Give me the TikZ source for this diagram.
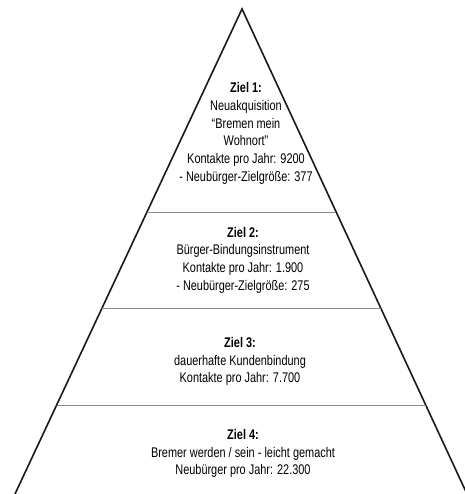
\documentclass[tikz,border=0pt]{standalone}
\usepackage{fontspec}
\setmainfont[FakeStretch=0.78]{Liberation Sans}
\usepackage{tikz}
\usetikzlibrary{calc}

\begin{document}
\begin{tikzpicture}[
      x=1pt, y=-1pt,
      kante/.style={draw=black!90, line width=1.6pt, line join=miter},
      trenner/.style={draw=black!45, line width=0.8pt},
      zielbox/.style={align=center, inner sep=0pt, font=\fontsize{14}{17.7}\selectfont}
    ]
      \useasboundingbox (0,0) rectangle (464,494);
      \coordinate (spitze) at (242,9);
      \coordinate (links) at (15,494);
      \coordinate (rechts) at (467,494);
      \draw[kante] (links) -- (spitze) -- (rechts);
      \foreach \t in {0.419, 0.6165, 0.8165}
        \draw[trenner] ($(spitze)!\t!(links)$) -- ($(spitze)!\t!(rechts)$);
      \node[zielbox] (ziel1) at (246,133.5) {\textbf{Ziel 1:}\\Neuakquisition\\``Bremen mein\\Wohnort''\\Kontakte pro Jahr: 9200\\- Neubürger-Zielgröße: 377};
      \node[zielbox] (ziel2) at (243,260) {\textbf{Ziel 2:}\\Bürger-Bindungsinstrument\\Kontakte pro Jahr: 1.900\\- Neubürger-Zielgröße: 275};
      \node[zielbox] (ziel3) at (240,361.5) {\textbf{Ziel 3:}\\dauerhafte Kundenbindung\\Kontakte pro Jahr: 7.700};
      \node[zielbox] (ziel4) at (243,453.5) {\textbf{Ziel 4:}\\Bremer werden / sein - leicht gemacht\\Neubürger pro Jahr: 22.300};
    \end{tikzpicture}
\end{document}
